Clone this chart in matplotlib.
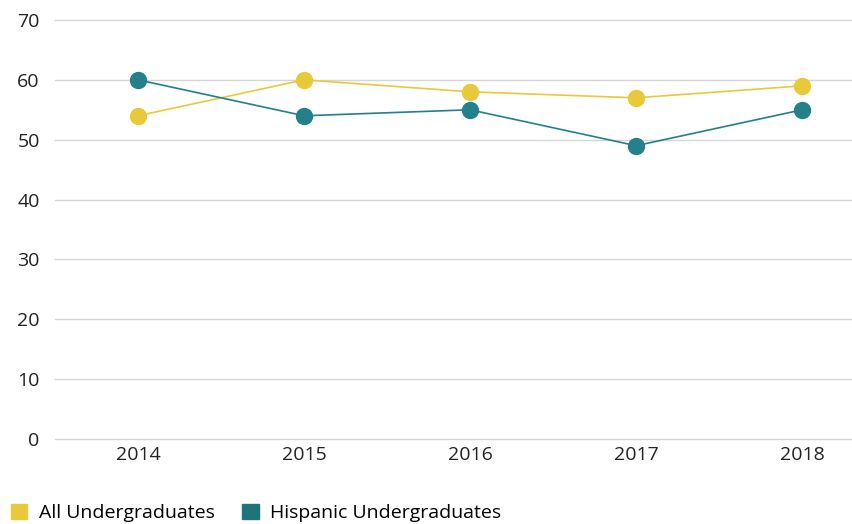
import matplotlib
matplotlib.use("Agg")
from matplotlib import pyplot as plt
from matplotlib.patches import Patch

# --- data ---
years = ["2014", "2015", "2016", "2017", "2018"]
all_undergrad = [54, 60, 58, 57, 59]
hispanic_undergrad = [60, 54, 55, 49, 55]
y_ticks = [0, 10, 20, 30, 40, 50, 60, 70]

yellow = "#E8C93A"
teal = "#24808A"

plt.rcParams['font.family'] = ['Open Sans', 'DejaVu Sans']
fs = 14

fig = plt.figure(figsize=(8.52, 5.24), dpi=100)
ax = fig.add_axes([55 / 852, 85 / 524, 797 / 852, 419 / 524])

x = list(range(len(years)))
ax.plot(x, all_undergrad, color=yellow, lw=1.2, marker='o', ms=11.5,
        label="All Undergraduates", zorder=3)
ax.plot(x, hispanic_undergrad, color=teal, lw=1.2, marker='o', ms=11.5,
        label="Hispanic Undergraduates", zorder=3)

ax.set_xlim(-0.5, 4.3)
ax.set_ylim(0, 70)
ax.set_yticks(y_ticks)
ax.set_xticks(x)
ax.set_xticklabels(years)
ax.grid(axis='y', color='#d6d6d6', lw=1)
for gl in ax.get_ygridlines():
    gl.set_clip_on(False)
ax.set_axisbelow(True)
for s in ax.spines.values():
    s.set_visible(False)
ax.tick_params(length=0, colors='#222222', labelsize=fs)
ax.tick_params(axis='y', pad=11)
ax.tick_params(axis='x', pad=5)

handles = [Patch(color=yellow, label="All Undergraduates"),
           Patch(color="#1F737A", label="Hispanic Undergraduates")]
fig.legend(handles=handles, loc='lower left', bbox_to_anchor=(-0.008, -0.03),
           ncol=2, frameon=False, handlelength=0.85, handleheight=0.85,
           handletextpad=0.6, columnspacing=1.4, fontsize=fs)

fig.savefig("out.png", dpi=100)
